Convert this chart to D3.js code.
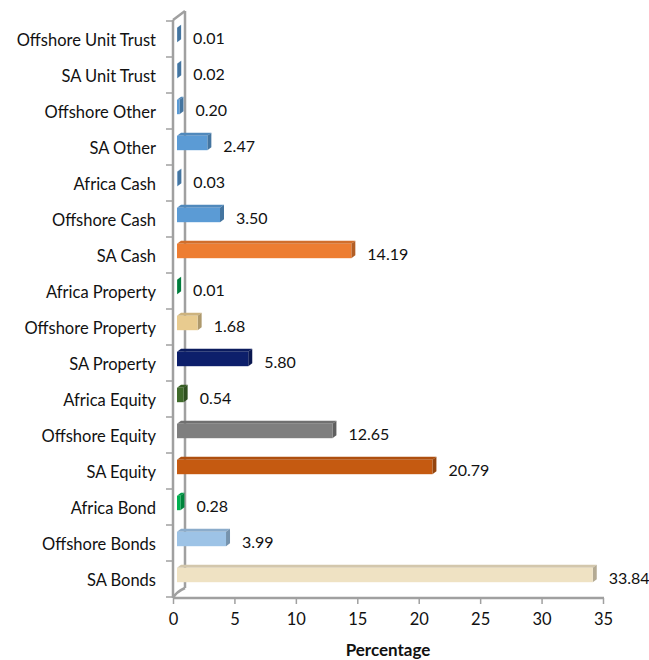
<!DOCTYPE html>
<html>
<head>
<meta charset="utf-8">
<script src="https://cdn.jsdelivr.net/npm/d3@7"></script>
<style>
  html, body { margin: 0; padding: 0; background: #fff; }
  svg text { font-family: Lato, "Open Sans", sans-serif; fill: #111; }
</style>
</head>
<body>
<svg id="chart" width="649" height="660"></svg>
<script>
// Asset classes, top to bottom
const categories = [
  "Offshore Unit Trust", "SA Unit Trust", "Offshore Other", "SA Other",
  "Africa Cash", "Offshore Cash", "SA Cash", "Africa Property",
  "Offshore Property", "SA Property", "Africa Equity", "Offshore Equity",
  "SA Equity", "Africa Bond", "Offshore Bonds", "SA Bonds"
];
// Allocation (%) per asset class
const values = [
  0.01, 0.02, 0.20, 2.47,
  0.03, 3.50, 14.19, 0.01,
  1.68, 5.80, 0.54, 12.65,
  20.79, 0.28, 3.99, 33.84
];
const colors = [
  "#5b9bd5", "#5b9bd5", "#5b9bd5", "#5b9bd5",
  "#5b9bd5", "#5b9bd5", "#ed7d31", "#00a550",
  "#e8cb8f", "#0d1f6b", "#3f6a2a", "#7f7f7f",
  "#c55a11", "#00b050", "#9dc3e6", "#efe2c3"
];
const xTicks = [0, 5, 10, 15, 20, 25, 30, 35];
const xTitle = "Percentage";

const svg = d3.select("#chart");
const fontSize = 16.5;

// Plot geometry (front plane of the 3D box)
const pLeft = 173, pRight = 603, pTop = 21, pBottom = 597;
const depth = { dx: 12, dy: -9 };       // wall depth offset
const barFront = { dx: 4, dy: -4 };     // bar front face offset
const barDepth = { dx: 4, dy: -3 };     // bar thickness in depth

const x = d3.scaleLinear().domain([0, 35]).range([pLeft, pRight]);
const y = d3.scaleBand().domain(categories).range([pTop, pBottom]).paddingInner(0).paddingOuter(0);
const barH = y.bandwidth() / 2.5;

const wallColor = "#a0a0a0";

// Left wall outline
const wall = svg.append("g").attr("fill", "none").attr("stroke", wallColor).attr("stroke-width", 2.5);
wall.append("line").attr("x1", pLeft + depth.dx).attr("y1", pTop + depth.dy - 1)
  .attr("x2", pLeft + depth.dx).attr("y2", pBottom + depth.dy);
wall.append("line").attr("x1", pLeft).attr("y1", pTop - 1).attr("x2", pLeft + depth.dx).attr("y2", pTop + depth.dy - 1);
wall.append("path").attr("d", `M${pLeft},${pBottom + 1} Q${pLeft + 3},${pBottom - 5} ${pLeft + depth.dx},${pBottom + depth.dy}`);

// Category axis ticks at band boundaries
const tickYs = categories.map(c => y(c)).concat([pBottom]);
svg.append("g").selectAll("line").data(tickYs).join("line")
  .attr("x1", pLeft - 7).attr("x2", pLeft).attr("y1", d => d).attr("y2", d => d)
  .attr("stroke", wallColor).attr("stroke-width", 1.5);

// Bars (drawn behind the front axis line)
const gBars = svg.append("g");
categories.forEach((c, i) => {
  const v = values[i];
  const cy = y(c) + y.bandwidth() / 2 + barFront.dy;
  const x0 = x(0) + barFront.dx, x1 = x(v) + barFront.dx;
  const y0 = cy - barH / 2, y1 = cy + barH / 2;
  const base = d3.color(colors[i]);
  const g = gBars.append("g");
  // top face
  g.append("path")
    .attr("d", `M${x0},${y0} L${x1},${y0} L${x1 + barDepth.dx},${y0 + barDepth.dy} L${x0 + barDepth.dx},${y0 + barDepth.dy} Z`)
    .attr("fill", base.darker(0.35));
  // side face
  g.append("path")
    .attr("d", `M${x1},${y0} L${x1 + barDepth.dx},${y0 + barDepth.dy} L${x1 + barDepth.dx},${y1 + barDepth.dy} L${x1},${y1} Z`)
    .attr("fill", base.darker(0.8));
  // front face
  g.append("rect").attr("x", x0).attr("y", y0).attr("width", Math.max(0, x1 - x0)).attr("height", barH)
    .attr("fill", colors[i]);
});

// Front edge of the wall and floor
svg.append("line").attr("x1", pLeft).attr("y1", pTop - 1).attr("x2", pLeft).attr("y2", pBottom + 1)
  .attr("stroke", wallColor).attr("stroke-width", 2.5);
svg.append("line").attr("x1", pLeft).attr("y1", pBottom + 1).attr("x2", pRight + 1).attr("y2", pBottom + 1)
  .attr("stroke", wallColor).attr("stroke-width", 2.5);

// Value axis
const xAxis = d3.axisBottom(x).tickValues(xTicks).tickSize(6).tickPadding(9).tickFormat(d3.format("d"));
const gx = svg.append("g").attr("transform", `translate(0,${pBottom + 1})`).call(xAxis);
gx.select(".domain").remove();
gx.selectAll(".tick line").attr("stroke", wallColor).attr("stroke-width", 1.5);
gx.selectAll(".tick text").attr("font-size", fontSize).attr("fill", "#111")
  .attr("font-family", "Lato, 'Open Sans', sans-serif");

// Category labels
svg.append("g").selectAll("text").data(categories).join("text")
  .attr("x", 156).attr("y", d => y(d) + y.bandwidth() / 2 + 1)
  .attr("text-anchor", "end").attr("dominant-baseline", "central")
  .attr("font-size", fontSize).text(d => d);

// Value labels
svg.append("g").selectAll("text").data(categories).join("text")
  .attr("x", (d, i) => x(values[i]) + 20)
  .attr("y", d => y(d) + y.bandwidth() / 2 - 2)
  .attr("dominant-baseline", "central")
  .attr("font-size", 16)
  .text((d, i) => values[i].toFixed(2));

// Axis title
svg.append("text").attr("x", (pLeft + pRight) / 2).attr("y", 649)
  .attr("text-anchor", "middle").attr("dominant-baseline", "central")
  .attr("font-size", 17).attr("font-weight", "bold").text(xTitle);
</script>
</body>
</html>
